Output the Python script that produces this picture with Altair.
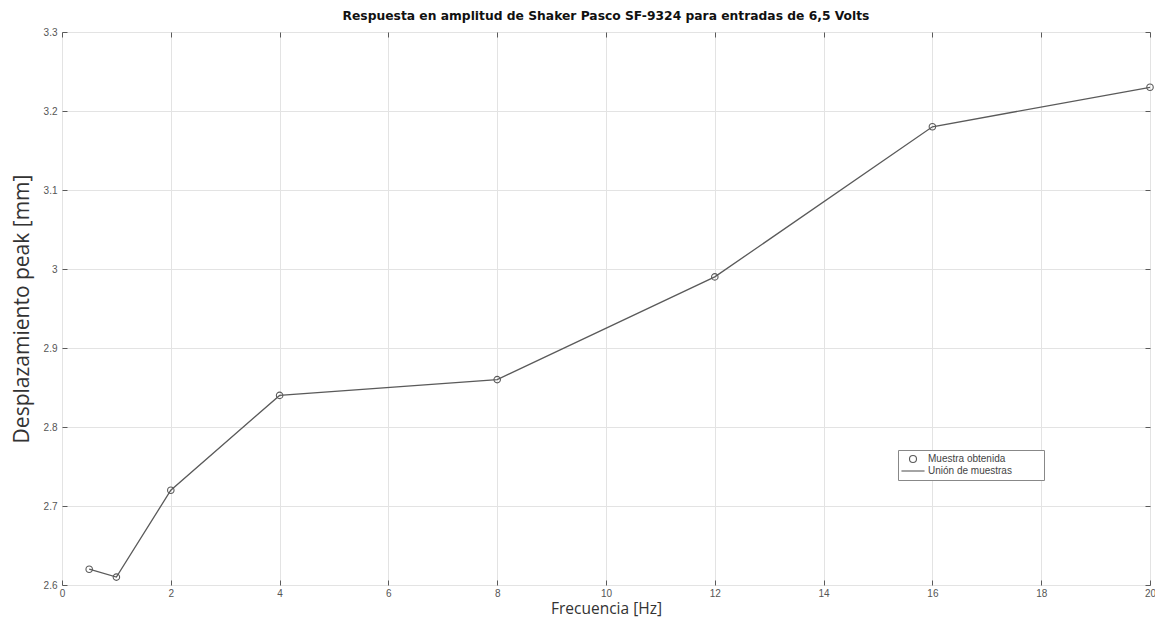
import altair as alt
import pandas as pd

freq = [0.5, 1, 2, 4, 8, 12, 16, 20]
disp = [2.62, 2.61, 2.72, 2.84, 2.86, 2.99, 3.18, 3.23]
x_ticks = [0, 2, 4, 6, 8, 10, 12, 14, 16, 18, 20]
y_ticks = [2.6, 2.7, 2.8, 2.9, 3.0, 3.1, 3.2, 3.3]
legend_labels = ["Muestra obtenida", "Unión de muestras"]

df = pd.DataFrame({"f": freq, "d": disp})

W, H = 1088, 553
C = "#5a5a5a"
FONT = "Liberation Sans"
xs = alt.Scale(domain=[0, 20], nice=False, zero=False)
ys = alt.Scale(domain=[2.6, 3.3], nice=False, zero=False)

x_enc = alt.X("f:Q", scale=xs,
              axis=alt.Axis(values=x_ticks, title="Frecuencia [Hz]", titleFont="Open Sans",
                            titleFontSize=15.5, titleFontWeight="normal", titleColor="#333",
                            titleX=W / 2, titleY=36, titleBaseline="bottom",
                            labelFont=FONT, labelFontSize=10, labelColor="#555",
                            labelPadding=3, offset=-5, ticks=True, tickSize=5, tickColor=C,
                            domain=False, gridColor="#e3e3e3", labelFlush=False))
y_enc = alt.Y("d:Q", scale=ys,
              axis=alt.Axis(values=y_ticks, format="~g", title="Desplazamiento peak [mm]",
                            titleFont="Open Sans", titleFontSize=21, titleFontWeight="normal",
                            titleColor="#333", titleX=-45, titleY=H / 2, titleAngle=-90,
                            titleAlign="center", titleBaseline="middle",
                            labelFont=FONT, labelFontSize=10, labelColor="#555",
                            labelPadding=5, offset=-5, ticks=True, tickSize=5, tickColor=C,
                            domain=False, gridColor="#e3e3e3", labelFlush=False))

line = alt.Chart(df).mark_line(color=C, strokeWidth=1.3).encode(x=x_enc, y=y_enc)

# inward ticks on the top and right edges (box style)
box_ticks = alt.Chart(df).mark_point(opacity=0).encode(
    x=alt.X("f:Q", scale=xs, axis=alt.Axis(orient="top", values=x_ticks, title=None, labels=False,
                                           domain=False, grid=False, offset=-5, tickSize=5,
                                           tickColor=C)),
    y=alt.Y("d:Q", scale=ys, axis=alt.Axis(orient="right", values=y_ticks, title=None, labels=False,
                                           domain=False, grid=False, offset=-5, tickSize=5,
                                           tickColor=C)),
)

points = alt.Chart(df).mark_point(filled=False, color=C, size=42, strokeWidth=1.1, opacity=1).encode(
    x=alt.X("f:Q", scale=xs, axis=None), y=alt.Y("d:Q", scale=ys, axis=None),
    shape=alt.Shape(
        "lab:N",
        scale=alt.Scale(domain=legend_labels, range=["circle", "M-3.3,0H3.3"]),
        legend=alt.Legend(orient="none", legendX=836, legendY=418, title=None,
                          labelFont=FONT, labelFontSize=10, labelColor="#444",
                          labelExpr="datum.label + '\u2800\u2800\u2800\u2800'",
                          symbolSize=49, symbolStrokeColor=C, symbolFillColor="transparent",
                          symbolStrokeWidth=1.1, strokeColor="#888", fillColor="white",
                          padding=4, rowPadding=1, labelLimit=300, columnPadding=4,
                          symbolOffset=6, labelOffset=10),
    ),
).transform_calculate(lab="'Muestra obtenida'")

chart = alt.layer(line, box_ticks, points).resolve_axis(x="independent", y="independent").properties(
    width=W, height=H,
    title=alt.TitleParams("Respuesta en amplitud de Shaker Pasco SF-9324 para entradas de 6,5 Volts",
                          font="DejaVu Sans", fontSize=12.3, fontWeight="bold", color="#111",
                          anchor="middle", offset=5),
    autosize=alt.AutoSizeParams(type="none"),
    padding={"left": 54, "top": 24, "right": 5, "bottom": 33},
).configure_view(stroke=C, strokeWidth=1).configure(background="white")

chart.save("out.html", embed_options={"renderer": "svg", "actions": False})
